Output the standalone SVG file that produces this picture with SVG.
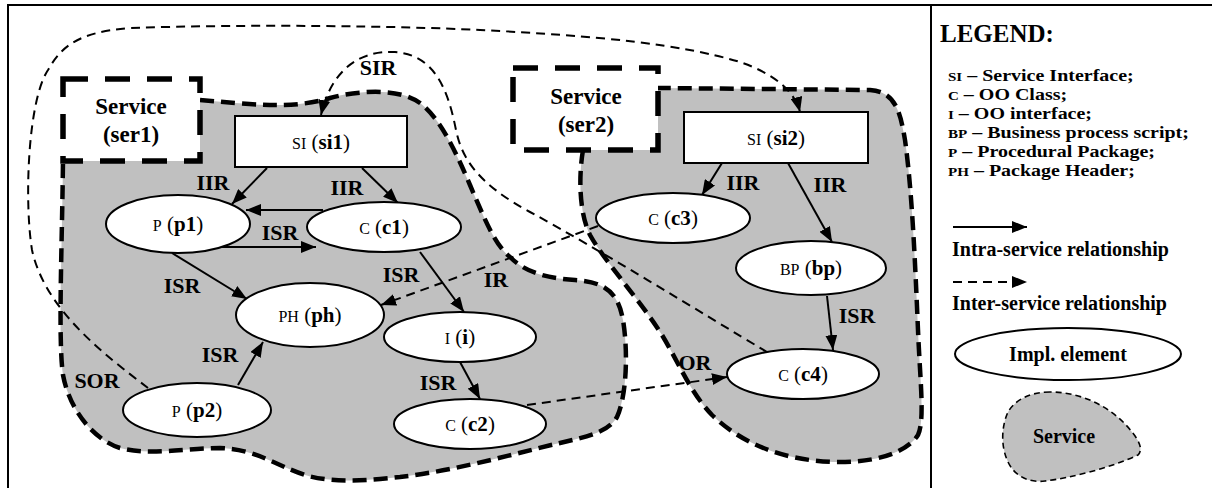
<svg xmlns="http://www.w3.org/2000/svg" width="1212" height="488" viewBox="0 0 1212 488">
  <style>
    text { font-family: "Liberation Serif", "Times New Roman", serif; fill: #000; }
    .lbl { font-size: 22px; font-weight: bold; text-anchor: middle; }
    .svc { font-size: 23px; font-weight: bold; text-anchor: middle; }
    .node { font-size: 21px; text-anchor: middle; }
    .kind { font-size: 16px; }
    .id { font-weight: bold; }
    .leg { font-size: 20px; font-weight: bold; }
    .legl { font-size: 17px; font-weight: bold; }
    .legk { font-size: 12.8px; }
    .region { fill: #c0c0c0; stroke: #000; stroke-width: 4.5; stroke-dasharray: 14 7; }
    .svcbox { fill: #fff; stroke: #000; stroke-width: 5.5; stroke-dasharray: 25 17; }
    .el { fill: #fff; stroke: #000; stroke-width: 2; }
    .intra { fill: none; stroke: #000; stroke-width: 2; marker-end: url(#head); }
    .inter { fill: none; stroke: #000; stroke-width: 2; stroke-dasharray: 9 6; }
    .inter.arr { marker-end: url(#head); }
  </style>
  <defs>
    <marker id="head" markerUnits="userSpaceOnUse" markerWidth="15" markerHeight="12" refX="15" refY="6" orient="auto">
      <path d="M0,0 L15,6 L0,12 Z" fill="#000"/>
    </marker>
  </defs>

  <rect x="0" y="0" width="1212" height="488" fill="#fff"/>
  <!-- frame and legend divider -->
  <rect x="8" y="5" width="1210" height="490" fill="none" stroke="#000" stroke-width="2"/>
  <line x1="931" y1="5" x2="931" y2="488" stroke="#000" stroke-width="2"/>

  <!-- service areas -->
  <g id="ser1">
    <path class="region" d="M200,100 C250,104 290,110 330,98 C360,90 400,88 420,103 C440,118 455,150 470,185 C485,220 495,245 510,257 C525,272 545,278 575,280 C605,282 618,292 623,320 C628,350 627,395 617,417 C608,432 590,436 560,443 C520,452 460,470 400,477 C370,480 335,484 305,475 C275,465 255,449 220,448 C185,448 150,456 120,448 C95,440 70,412 63,375 C58,340 62,250 63,160"/>
    <rect class="svcbox" x="63" y="79" width="137" height="82"/>
    <text class="svc" x="131" y="114">Service</text>
    <text class="svc" x="131" y="142">(ser1)</text>
  </g>
  <g id="ser2">
    <path class="region" d="M583,150 C578,180 580,215 590,235 C605,262 640,300 662,335 C680,365 690,392 712,415 C740,442 780,460 833,462 C870,463 905,455 918,435 C925,420 920,380 918,330 C915,260 912,190 905,140 C900,110 895,92 870,90 L658,88"/>
    <rect class="svcbox" x="513" y="68" width="145" height="82"/>
    <text class="svc" x="586" y="104">Service</text>
    <text class="svc" x="586" y="132">(ser2)</text>
  </g>

  <!-- relationships -->
  <g id="connectors">
    <path class="intra" d="M267,168 L232,204"/>
    <path class="intra" d="M362,168 L398,203"/>
    <path class="intra" d="M323,210 L246,210"/>
    <path class="intra" d="M222,247 L316,247"/>
    <path class="intra" d="M172,253 L247,299"/>
    <path class="intra" d="M238,385 L263,342"/>
    <path class="intra" d="M420,252 L464,312"/>
    <path class="intra" d="M460,362 L480,399"/>
    <path class="intra" d="M722,163 L702,195"/>
    <path class="intra" d="M788,163 L832,242"/>
    <path class="intra" d="M827,296 L833,350"/>

    <path class="inter arr" d="M148,388 C105,355 45,310 32,250 C24,200 28,100 48,70 C62,45 80,32 130,28 C250,24 400,26 480,30 C600,36 680,44 740,62 C775,74 795,92 800,112"/>
    <path class="inter arr" d="M767,352 C700,312 600,250 530,212 C480,185 462,160 456,130 C448,90 435,55 395,52 C355,50 330,75 321,115"/>
    <path class="inter arr" d="M598,226 L381,305"/>
    <path class="inter arr" d="M527,405 L727,377"/>

    <text class="lbl" x="378" y="75">SIR</text>
    <text class="lbl" x="213" y="190">IIR</text>
    <text class="lbl" x="347" y="195">IIR</text>
    <text class="lbl" x="280" y="240">ISR</text>
    <text class="lbl" x="182" y="293">ISR</text>
    <text class="lbl" x="220" y="362">ISR</text>
    <text class="lbl" x="97" y="388">SOR</text>
    <text class="lbl" x="401" y="282">ISR</text>
    <text class="lbl" x="496" y="287">IR</text>
    <text class="lbl" x="438" y="390">ISR</text>
    <text class="lbl" x="695" y="370">OR</text>
    <text class="lbl" x="743" y="190">IIR</text>
    <text class="lbl" x="830" y="192">IIR</text>
    <text class="lbl" x="857" y="323">ISR</text>
  </g>

  <!-- implementation elements -->
  <g id="si1">
    <rect class="el" x="235" y="116" width="172" height="51"/>
    <text class="node" x="321" y="149"><tspan class="kind">SI</tspan> (<tspan class="id">si1</tspan>)</text>
  </g>
  <g id="si2">
    <rect class="el" x="684" y="112" width="184" height="51"/>
    <text class="node" x="776" y="145"><tspan class="kind">SI</tspan> (<tspan class="id">si2</tspan>)</text>
  </g>
  <g id="p1">
    <ellipse class="el" cx="178" cy="224" rx="72" ry="29"/>
    <text class="node" x="178" y="231"><tspan class="kind">P</tspan> (<tspan class="id">p1</tspan>)</text>
  </g>
  <g id="c1">
    <ellipse class="el" cx="384" cy="227" rx="77" ry="25"/>
    <text class="node" x="384" y="234"><tspan class="kind">C</tspan> (<tspan class="id">c1</tspan>)</text>
  </g>
  <g id="ph">
    <ellipse class="el" cx="310" cy="315" rx="74" ry="32"/>
    <text class="node" x="310" y="322"><tspan class="kind">PH</tspan> (<tspan class="id">ph</tspan>)</text>
  </g>
  <g id="i">
    <ellipse class="el" cx="460" cy="337" rx="76" ry="25"/>
    <text class="node" x="460" y="344"><tspan class="kind">I</tspan> (<tspan class="id">i</tspan>)</text>
  </g>
  <g id="c2">
    <ellipse class="el" cx="470" cy="424" rx="76" ry="25"/>
    <text class="node" x="470" y="431"><tspan class="kind">C</tspan> (<tspan class="id">c2</tspan>)</text>
  </g>
  <g id="p2">
    <ellipse class="el" cx="197" cy="410" rx="74" ry="27"/>
    <text class="node" x="197" y="417"><tspan class="kind">P</tspan> (<tspan class="id">p2</tspan>)</text>
  </g>
  <g id="c3">
    <ellipse class="el" cx="673" cy="218" rx="77" ry="25"/>
    <text class="node" x="673" y="225"><tspan class="kind">C</tspan> (<tspan class="id">c3</tspan>)</text>
  </g>
  <g id="bp">
    <ellipse class="el" cx="811" cy="268" rx="75" ry="27"/>
    <text class="node" x="811" y="275"><tspan class="kind">BP</tspan> (<tspan class="id">bp</tspan>)</text>
  </g>
  <g id="c4">
    <ellipse class="el" cx="803" cy="374" rx="76" ry="25"/>
    <text class="node" x="803" y="381"><tspan class="kind">C</tspan> (<tspan class="id">c4</tspan>)</text>
  </g>

  <!-- legend -->
  <g id="legend">
    <text x="940" y="42" font-size="25" font-weight="bold">LEGEND:</text>
    <!-- abbreviation list: glyphs widened so the tight line pitch keeps clear -->
    <g transform="translate(948,0) scale(1.176,1)">
      <text class="legl" x="0" y="81"><tspan class="legk">SI</tspan> – Service Interface;</text>
      <text class="legl" x="0" y="100"><tspan class="legk">C</tspan> – OO Class;</text>
      <text class="legl" x="0" y="119"><tspan class="legk">I</tspan> – OO interface;</text>
      <text class="legl" x="0" y="138"><tspan class="legk">BP</tspan> – Business process script;</text>
      <text class="legl" x="0" y="157"><tspan class="legk">P</tspan> – Procedural Package;</text>
      <text class="legl" x="0" y="176"><tspan class="legk">PH</tspan> – Package Header;</text>
    </g>
    <path class="intra" d="M953,227 L1027,227"/>
    <text class="leg" x="952" y="256">Intra-service relationship</text>
    <path class="inter arr" stroke-dasharray="10 7" d="M953,282 L1027,282"/>
    <text class="leg" x="952" y="310">Inter-service relationship</text>
    <ellipse class="el" cx="1068" cy="354" rx="113" ry="26"/>
    <text class="leg" x="1068" y="361" text-anchor="middle">Impl. element</text>
    <path d="M1050,392 C1030,392 1015,400 1008,412 C1002,425 1000,445 1008,462 C1015,477 1030,483 1045,481 C1070,478 1110,468 1138,455 C1143,450 1140,442 1132,432 C1115,410 1085,392 1050,392 Z" fill="#c0c0c0" stroke="#000" stroke-width="1.6" stroke-dasharray="6 4"/>
    <text class="leg" x="1064" y="443" text-anchor="middle">Service</text>
  </g>
</svg>
